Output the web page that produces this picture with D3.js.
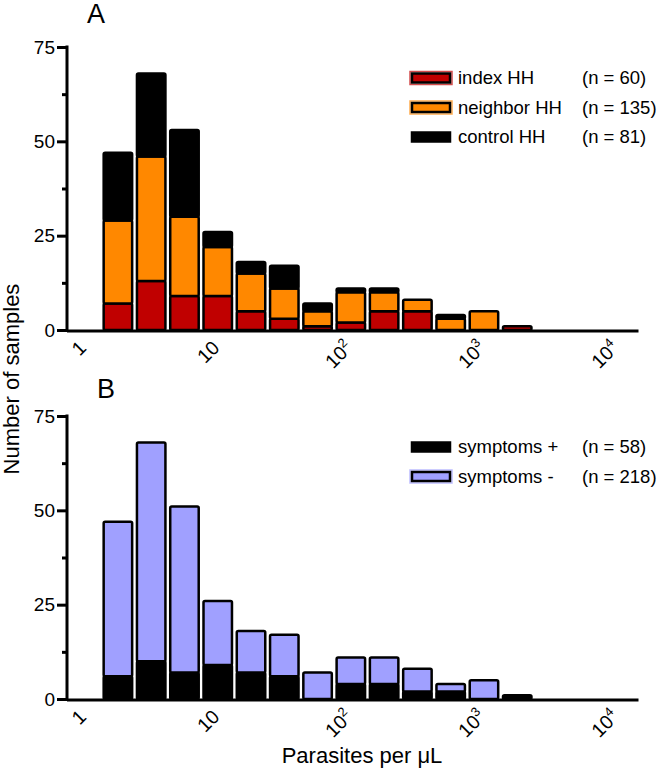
<!DOCTYPE html>
<html><head><meta charset="utf-8">
<script src="https://cdn.jsdelivr.net/npm/d3@7/dist/d3.min.js"></script>
<style>body{margin:0;background:#fff} text{font-family:"Liberation Sans",Arial,sans-serif;fill:#000}</style>
</head><body><svg id="c" width="660" height="772"></svg>
<script>
// Bins (parasites per µL), quarter-decade bins
const binLower = [1.778, 3.162, 5.623, 10, 17.78, 31.62, 56.23, 100, 177.8, 316.2, 562.3, 1000, 1778];
const binUpper = [3.162, 5.623, 10, 17.78, 31.62, 56.23, 100, 177.8, 316.2, 562.3, 1000, 1778, 3162];
// Panel A
const indexHH    = [7, 13, 9, 9, 5, 3, 1, 2, 5, 5, 0, 0, 1];
const neighborHH = [22, 33, 21, 13, 10, 8, 4, 8, 5, 3, 3, 5, 0];
const controlHH  = [18, 22, 23, 4, 3, 6, 2, 1, 1, 0, 1, 0, 0];
// Panel B
const symptomsPos = [6, 10, 7, 9, 7, 6, 0, 4, 4, 2, 2, 0, 1];
const symptomsNeg = [41, 58, 44, 17, 11, 11, 7, 7, 7, 6, 2, 5, 0];
// Legends
const legendA = [["index HH", "(n = 60)"], ["neighbor HH", "(n = 135)"], ["control HH", "(n = 81)"]];
const legendB = [["symptoms +", "(n = 58)"], ["symptoms -", "(n = 218)"]];
// Ticks
const xTicks = [1, 10, 100, 1000, 10000];
const yTicks = [0, 25, 50, 75];
const yMinor = [12.5, 37.5, 62.5];

const colorsA = ["#c00000", "#ff8800", "#000000"];
const colorsB = ["#000000", "#a0a0ff"];

const svg = d3.select("#c");
const x = d3.scaleLog().domain([1, 20000]).range([68, 640.5]);

function supLabel(sel, v) {
  const e = Math.round(Math.log10(v));
  if (e === 0) sel.text("1");
  else if (e === 1) sel.text("10");
  else {
    sel.append("tspan").text("10");
    sel.append("tspan").attr("dy", -8).attr("font-size", 13).text(e);
  }
}

function panel(y0, y75, series, colors, legend, legY, title, titleX, titleY) {
  const y = d3.scaleLinear().domain([0, 75]).range([y0, y75]);
  const g = svg.append("g");
  // bars
  const n = binLower.length;
  for (let i = 0; i < n; i++) {
    let cum = 0;
    series.forEach((s, k) => {
      const v = s[i];
      if (v > 0) {
        g.append("rect")
          .attr("x", x(binLower[i]) + 2.4)
          .attr("width", x(binUpper[i]) - x(binLower[i]) - 4.8)
          .attr("y", y(cum + v))
          .attr("height", y(cum) - y(cum + v))
          .attr("rx", 1.5)
          .attr("fill", colors[k]).attr("stroke", "#000").attr("stroke-width", 2.5);
      }
      cum += v;
    });
  }
  // y axis
  const ya = g.append("g").attr("transform", "translate(67,0)")
    .call(d3.axisLeft(y).tickValues(yTicks).tickSize(10).tickSizeOuter(0).tickPadding(2));
  ya.select(".domain").attr("stroke-width", 3).attr("d", `M0,${y(75)-1.5}V${y(0)+1.5}`);
  ya.selectAll(".tick line").attr("stroke-width", 3);
  ya.selectAll(".tick text").attr("font-size", 19).attr("font-family", '"Liberation Sans",Arial,sans-serif');
  const ym = g.append("g").attr("transform", "translate(67,0)")
    .call(d3.axisLeft(y).tickValues(yMinor).tickSize(5).tickFormat(""));
  ym.select(".domain").remove();
  ym.selectAll(".tick line").attr("stroke-width", 3);
  // x axis
  const xa = g.append("g").attr("transform", `translate(0,${y0 + 1})`)
    .call(d3.axisBottom(x).tickValues(xTicks).tickSize(0).tickSizeOuter(0).tickFormat(""));
  xa.select(".domain").attr("stroke-width", 3).attr("d", `M${x(1)-1}, 0H${x(20000) - 2}`);
  xa.selectAll(".tick").each(function(d) {
    const t = d3.select(this).append("text")
      .attr("text-anchor", "end")
      .attr("font-size", 19.5)
      .attr("fill", "#000")
      .attr("transform", "translate(19,18) rotate(-45)");
    supLabel(t, d);
  });
  // legend
  legend.forEach((L, k) => {
    const cy = legY + k * 29.5;
    const col = colors[k];
    if (col !== "#000000") {
      g.append("rect").attr("x", 410).attr("y", cy - 6.5).attr("width", 42).attr("height", 13)
        .attr("fill", "none").attr("stroke", col).attr("stroke-width", 1.5).attr("opacity", 0.7);
    }
    g.append("rect").attr("x", 412).attr("y", cy - 4.5).attr("width", 38).attr("height", 9)
      .attr("fill", col).attr("stroke", "#000").attr("stroke-width", 2.5);
    g.append("text").attr("x", 458).attr("y", cy).attr("dy", "0.35em").attr("font-size", 18.5).text(L[0]);
    g.append("text").attr("x", 582).attr("y", cy).attr("dy", "0.35em").attr("font-size", 18.5).text(L[1]);
  });
  g.append("text").attr("x", titleX).attr("y", titleY).attr("font-size", 27).text(title);
}

panel(330, 47, [indexHH, neighborHH, controlHH], colorsA, legendA, 78, "A", 87, 23);
panel(699, 416, [symptomsPos, symptomsNeg], colorsB, legendB, 447, "B", 97, 398);

svg.append("text").attr("transform", "translate(19,379) rotate(-90)")
  .attr("text-anchor", "middle").attr("font-size", 22).text("Number of samples");
svg.append("text").attr("x", 362).attr("y", 763)
  .attr("text-anchor", "middle").attr("font-size", 22).text("Parasites per μL");
</script></body></html>
